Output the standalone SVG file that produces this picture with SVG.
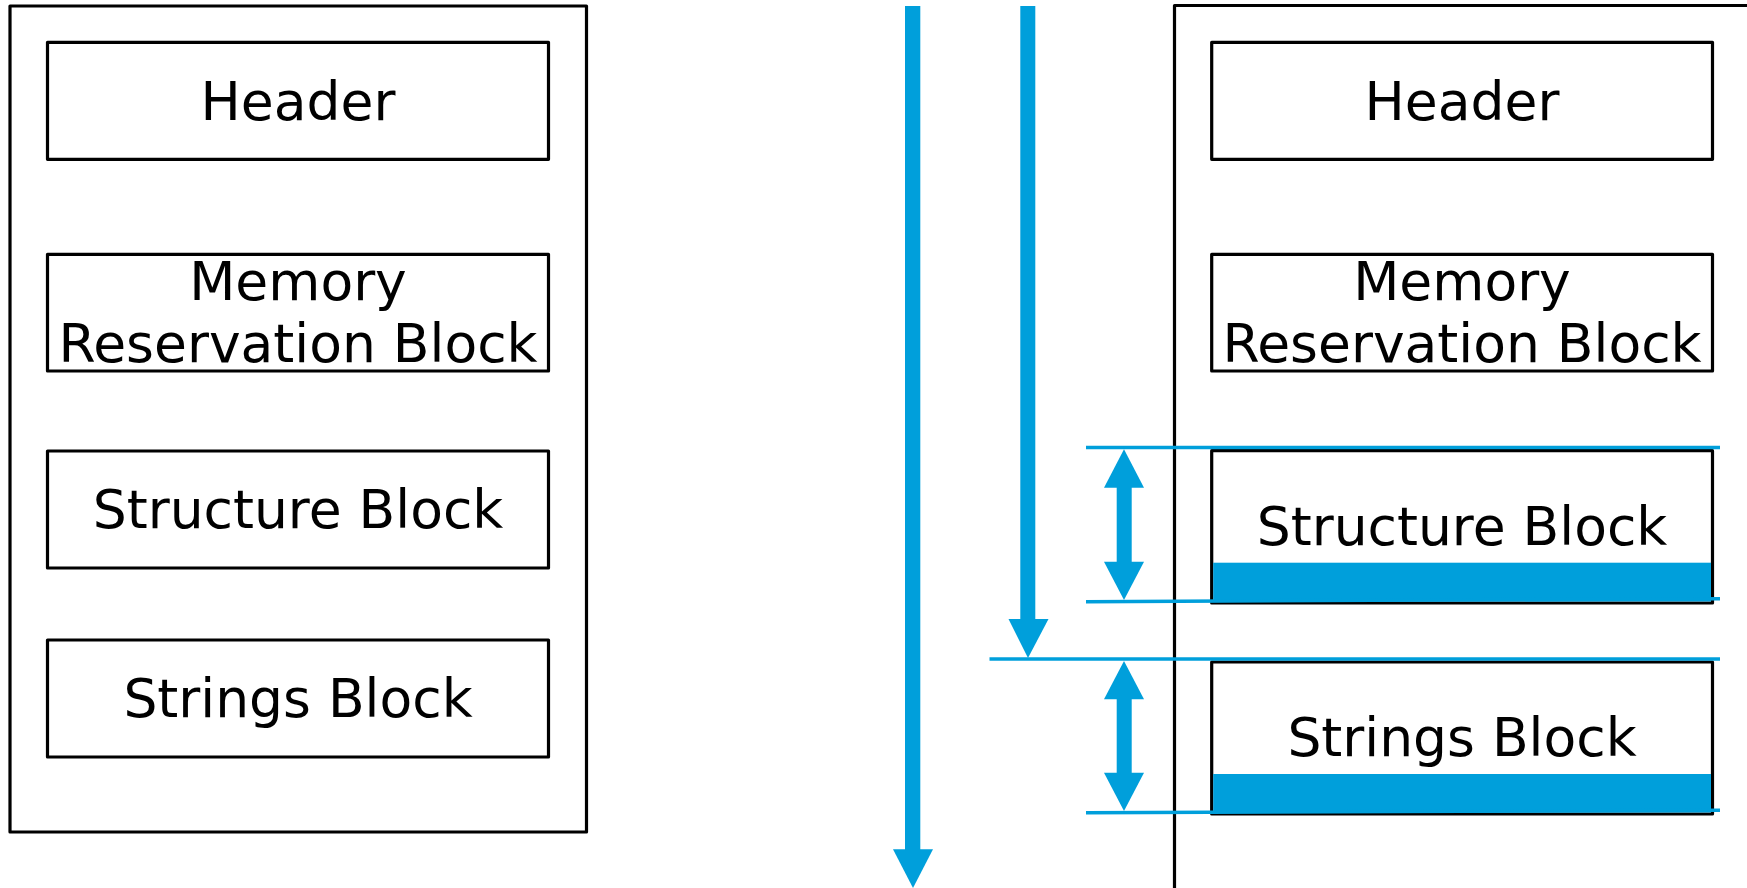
<svg xmlns="http://www.w3.org/2000/svg" width="1747" height="888" viewBox="0 0 1747 888">
<style>
.box{fill:#fff;stroke:#000;stroke-width:3.2;stroke-linejoin:round}
.outer{fill:none;stroke:#000;stroke-width:3.2;stroke-linejoin:round}
.lbl{font-family:"DejaVu Sans",sans-serif;font-size:53.5px;fill:#000;text-anchor:middle}
.blue{fill:#009fdb}
.bline{stroke:#009fdb;stroke-width:3.5;fill:none}
</style>
<rect width="1747" height="888" fill="#fff"/>
<g id="left-blob">
<rect class="outer" x="10" y="6" width="576.5" height="826"/>
</g>
<g id="left-header"><rect class="box" x="47.5" y="42.3" width="501" height="117"/><text class="lbl" x="298" y="120">Header</text></g>
<g id="left-mrb"><rect class="box" x="47.5" y="254.3" width="501" height="116.7"/><text class="lbl" x="298" y="300">Memory</text><text class="lbl" x="298" y="362">Reservation Block</text></g>
<g id="left-struct"><rect class="box" x="47.5" y="451" width="501" height="117"/><text class="lbl" x="298" y="528">Structure Block</text></g>
<g id="left-strings"><rect class="box" x="47.5" y="640" width="501" height="117"/><text class="lbl" x="298" y="717">Strings Block</text></g>
<g id="right-blob">
<rect class="outer" x="1174.5" y="5.5" width="620" height="950"/>
</g>
<g id="right-header"><rect class="box" x="1211.7" y="42.3" width="500.8" height="117"/><text class="lbl" x="1462" y="120">Header</text></g>
<g id="right-mrb"><rect class="box" x="1211.7" y="254.3" width="500.8" height="116.7"/><text class="lbl" x="1462" y="300">Memory</text><text class="lbl" x="1462" y="362">Reservation Block</text></g>
<g id="right-struct"><rect class="box" x="1211.7" y="450.7" width="500.8" height="152.3"/><rect class="blue" x="1213.2" y="562.7" width="497.8" height="38.8"/><text class="lbl" x="1462" y="545">Structure Block</text></g>
<g id="right-strings"><rect class="box" x="1211.7" y="662" width="500.8" height="152"/><rect class="blue" x="1213.2" y="774" width="497.8" height="38.5"/><text class="lbl" x="1462" y="756">Strings Block</text></g>
<g id="connectors">
<rect class="blue" x="905" y="6" width="15.3" height="845"/>
<polygon class="blue" points="893,849.3 933,849.3 913,888"/>
<rect class="blue" x="1020.3" y="6" width="15" height="615"/>
<polygon class="blue" points="1008.5,619 1048.5,619 1028,658"/>
<line class="bline" x1="1086" y1="447.5" x2="1720" y2="447.5"/>
<line class="bline" x1="1086" y1="601.7" x2="1720" y2="598.7"/>
<line class="bline" x1="989.5" y1="659" x2="1720" y2="659"/>
<line class="bline" x1="1086" y1="812.7" x2="1720" y2="810.3"/>
<line class="bline" x1="873" y1="889.8" x2="1747" y2="889.8"/>
<rect class="blue" x="1116.7" y="486" width="15" height="77"/>
<polygon class="blue" points="1104,487.7 1144,487.7 1124,449.3"/>
<polygon class="blue" points="1104,561.7 1144,561.7 1124,600"/>
<rect class="blue" x="1116.7" y="698" width="15" height="76"/>
<polygon class="blue" points="1104,699.3 1144,699.3 1124,661"/>
<polygon class="blue" points="1104,772.7 1144,772.7 1124,811"/>
</g>
</svg>
